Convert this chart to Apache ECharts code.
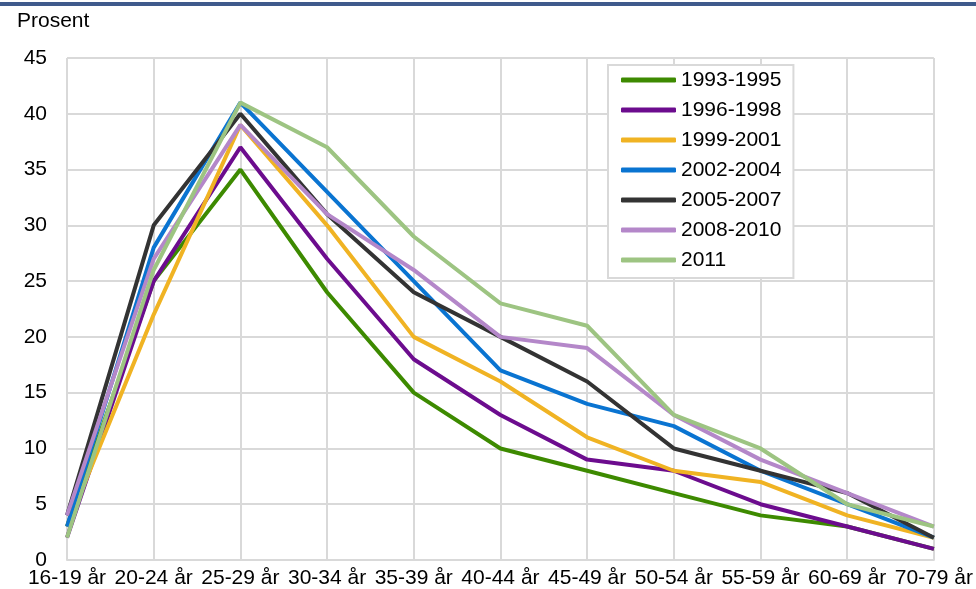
<!DOCTYPE html>
<html><head><meta charset="utf-8">
<script src="https://cdn.jsdelivr.net/npm/echarts@6/dist/echarts.min.js"></script>
<style>html,body{margin:0;padding:0;background:#fff;}#c{width:976px;height:589px;}</style>
</head><body><div id="c"></div>
<script>
var categories = ['16-19 år','20-24 år','25-29 år','30-34 år','35-39 år','40-44 år','45-49 år','50-54 år','55-59 år','60-69 år','70-79 år'];
var s1993 = [3, 25, 35, 24, 15, 10, 8, 6, 4, 3, 1];
var s1996 = [2, 25, 37, 27, 18, 13, 9, 8, 5, 3, 1];
var s1999 = [3, 22, 39, 30, 20, 16, 11, 8, 7, 4, 2];
var s2002 = [3, 28, 41, 33, 25, 17, 14, 12, 8, 5, 2];
var s2005 = [4, 30, 40, 31, 24, 20, 16, 10, 8, 6, 2];
var s2008 = [4, 27, 39, 31, 26, 20, 19, 13, 9, 6, 3];
var s2011 = [2, 26, 41, 37, 29, 23, 21, 13, 10, 5, 3];
var seriesNames = ['1993-1995','1996-1998','1999-2001','2002-2004','2005-2007','2008-2010','2011'];
var seriesData = [s1993, s1996, s1999, s2002, s2005, s2008, s2011];
var colors = ['#3d8a00','#6c0c8e','#f0b323','#0a74d1','#333333','#b487c9','#9dc482'];

var chart = echarts.init(document.getElementById('c'));
var font = 'Arial, "Liberation Sans", sans-serif';
chart.setOption({
  animation: false,
  color: colors,
  graphic: [
    {type:'rect', shape:{x:0,y:2,width:976,height:4}, style:{fill:'#3f5a8c'}},
    {type:'text', left:17, top:11, style:{text:'Prosent', font:'21px ' + font, fill:'#000'}}
  ],
  grid: {left:67, right:40, top:58, bottom:28, containLabel:false},
  legend: {
    orient:'vertical', left:608, top:65,
    data: seriesNames,
    icon:'roundRect', itemWidth:55, itemHeight:5, itemGap:6,
    padding:[3,12,6,13],
    borderColor:'#d9d9d9', borderWidth:2, backgroundColor:'#fff',
    textStyle:{fontSize:21, fontFamily:font, color:'#000', lineHeight:24}
  },
  xAxis: {
    type:'category', data:categories, boundaryGap:false,
    axisLine:{show:true, lineStyle:{color:'#d9d9d9', width:2}},
    axisTick:{show:false},
    axisLabel:{fontSize:21, fontFamily:font, color:'#000', margin:8, interval:0},
    splitLine:{show:true, lineStyle:{color:'#d9d9d9', width:2}}
  },
  yAxis: {
    type:'value', min:0, max:45, interval:5,
    axisLine:{show:false}, axisTick:{show:false},
    axisLabel:{fontSize:21, fontFamily:font, color:'#000', margin:20},
    splitLine:{show:true, lineStyle:{color:'#d9d9d9', width:2}}
  },
  series: seriesNames.map(function(n,i){
    return {name:n, type:'line', data:seriesData[i], symbol:'none', smooth:false,
      lineStyle:{width:4, color:colors[i]}, itemStyle:{color:colors[i]}};
  })
});
</script></body></html>
